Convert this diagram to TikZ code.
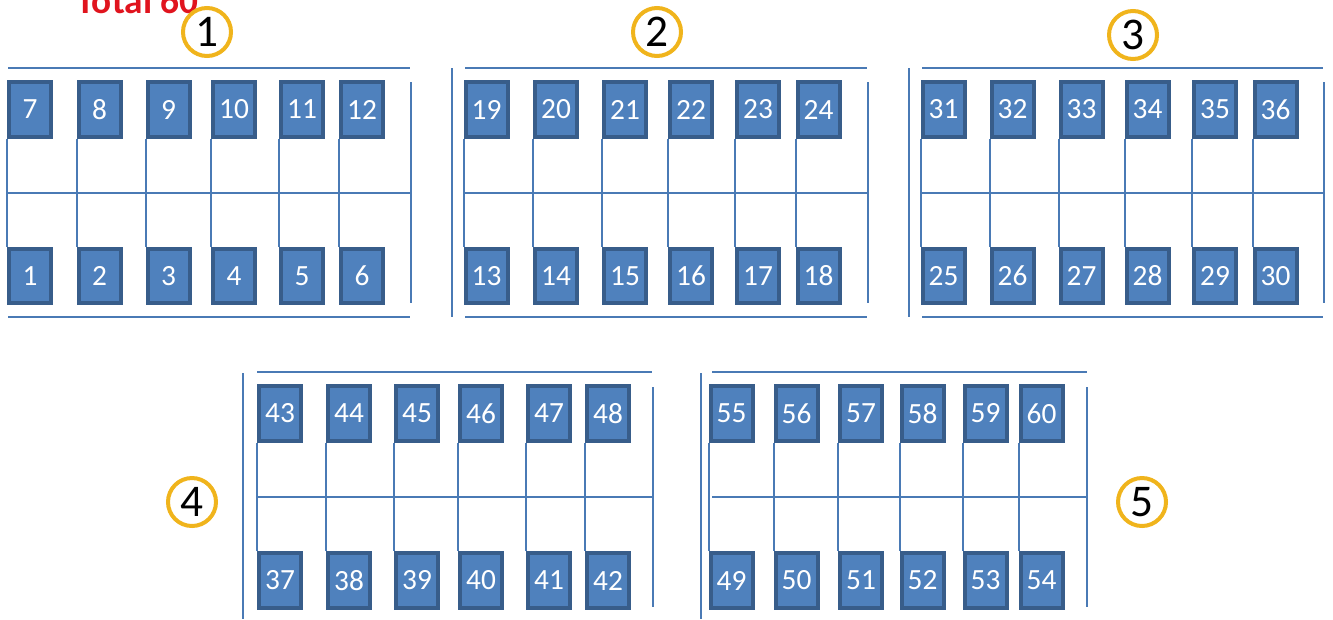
\documentclass[tikz,border=0pt]{standalone}
\usepackage{fontspec}
\setmainfont{Carlito}
\definecolor{seatfill}{HTML}{4F81BD}
\definecolor{seatedge}{HTML}{385D8A}
\definecolor{rail}{HTML}{4A7AB5}
\definecolor{ring}{HTML}{F0B41C}
\definecolor{totalred}{HTML}{E0141E}
\begin{document}
\begin{tikzpicture}[x=0.75pt,y=-0.75pt,
  seat/.style={draw=seatedge, fill=seatfill, line width=3pt, minimum width=31.5pt, minimum height=41pt, inner sep=0pt, text=white, font=\fontsize{22}{22}\selectfont},
  group/.style={draw=ring, line width=3pt, circle, minimum size=36pt, inner sep=0pt, font=\fontsize{34}{34}\selectfont},
  wire/.style={draw=rail, line width=1.5pt}]
\useasboundingbox (0,0) rectangle (1333,619);
\node[anchor=base west, text=totalred, font=\bfseries\fontsize{28}{28}\selectfont] (total) at (72,13) {Total 60};
\node[group] (g1) at (207,32) {1};
\node[group] (g2) at (657,32) {2};
\node[group] (g3) at (1133,35) {3};
\node[group] (g4) at (192,502) {4};
\node[group] (g5) at (1142,502) {5};
\node[seat] (s7) at (30,109.5) {7};
\node[seat] (s8) at (99.5,109.5) {8};
\node[seat] (s9) at (168.5,109.5) {9};
\node[seat] (s10) at (234,109.5) {10};
\node[seat] (s11) at (302,109.5) {11};
\node[seat] (s12) at (362,109.5) {12};
\node[seat] (s1) at (30,276) {1};
\node[seat] (s2) at (99.5,276) {2};
\node[seat] (s3) at (168.5,276) {3};
\node[seat] (s4) at (234,276) {4};
\node[seat] (s5) at (302,276) {5};
\node[seat] (s6) at (362,276) {6};
\node[seat] (s19) at (486.5,109.5) {19};
\node[seat] (s20) at (556,109.5) {20};
\node[seat] (s21) at (625,109.5) {21};
\node[seat] (s22) at (691,109.5) {22};
\node[seat] (s23) at (758,109.5) {23};
\node[seat] (s24) at (818.5,109.5) {24};
\node[seat] (s13) at (486.5,276) {13};
\node[seat] (s14) at (556,276) {14};
\node[seat] (s15) at (625,276) {15};
\node[seat] (s16) at (691,276) {16};
\node[seat] (s17) at (758,276) {17};
\node[seat] (s18) at (818.5,276) {18};
\node[seat] (s31) at (943.5,109.5) {31};
\node[seat] (s32) at (1012.5,109.5) {32};
\node[seat] (s33) at (1081.5,109.5) {33};
\node[seat] (s34) at (1147.5,109.5) {34};
\node[seat] (s35) at (1215,109.5) {35};
\node[seat] (s36) at (1275.5,109.5) {36};
\node[seat] (s25) at (943.5,276) {25};
\node[seat] (s26) at (1012.5,276) {26};
\node[seat] (s27) at (1081.5,276) {27};
\node[seat] (s28) at (1147.5,276) {28};
\node[seat] (s29) at (1215,276) {29};
\node[seat] (s30) at (1275.5,276) {30};
\node[seat] (s43) at (280,413.5) {43};
\node[seat] (s44) at (349,413.5) {44};
\node[seat] (s45) at (417,413.5) {45};
\node[seat] (s46) at (481,413.5) {46};
\node[seat] (s47) at (549,413.5) {47};
\node[seat] (s48) at (608,413.5) {48};
\node[seat] (s37) at (280,580.5) {37};
\node[seat] (s38) at (349,580.5) {38};
\node[seat] (s39) at (417,580.5) {39};
\node[seat] (s40) at (481,580.5) {40};
\node[seat] (s41) at (549,580.5) {41};
\node[seat] (s42) at (608,580.5) {42};
\node[seat] (s55) at (731.5,413.5) {55};
\node[seat] (s56) at (796.5,413.5) {56};
\node[seat] (s57) at (861,413.5) {57};
\node[seat] (s58) at (922.5,413.5) {58};
\node[seat] (s59) at (985.5,413.5) {59};
\node[seat] (s60) at (1041.5,413.5) {60};
\node[seat] (s49) at (731.5,580.5) {49};
\node[seat] (s50) at (796.5,580.5) {50};
\node[seat] (s51) at (861,580.5) {51};
\node[seat] (s52) at (922.5,580.5) {52};
\node[seat] (s53) at (985.5,580.5) {53};
\node[seat] (s54) at (1041.5,580.5) {54};
\draw[wire] (8,68) -- (410,68);
\draw[wire] (8,317) -- (410,317);
\draw[wire] (411,82) -- (411,303);
\draw[wire] (8,193) -- (410,193);
\draw[wire] (452,68) -- (452,317);
\draw[wire] (465,68) -- (867,68);
\draw[wire] (465,317) -- (867,317);
\draw[wire] (868,82) -- (868,303);
\draw[wire] (465,193) -- (867,193);
\draw[wire] (909,68) -- (909,317);
\draw[wire] (922,68) -- (1323,68);
\draw[wire] (922,317) -- (1323,317);
\draw[wire] (1324,82) -- (1324,303);
\draw[wire] (922,193) -- (1323,193);
\draw[wire] (243,373) -- (243,619);
\draw[wire] (257,372) -- (652,372);
\draw[wire] (653,387) -- (653,607);
\draw[wire] (257,497) -- (652,497);
\draw[wire] (701,373) -- (701,619);
\draw[wire] (712,372) -- (1087,372);
\draw[wire] (1087,387) -- (1087,607);
\draw[wire] (712,497) -- (1087,497);
\draw[wire] (s7.south west) -- (s1.north west);
\draw[wire] (s8.south west) -- (s2.north west);
\draw[wire] (s9.south west) -- (s3.north west);
\draw[wire] (s10.south west) -- (s4.north west);
\draw[wire] (s11.south west) -- (s5.north west);
\draw[wire] (s12.south west) -- (s6.north west);
\draw[wire] (s19.south west) -- (s13.north west);
\draw[wire] (s20.south west) -- (s14.north west);
\draw[wire] (s21.south west) -- (s15.north west);
\draw[wire] (s22.south west) -- (s16.north west);
\draw[wire] (s23.south west) -- (s17.north west);
\draw[wire] (s24.south west) -- (s18.north west);
\draw[wire] (s31.south west) -- (s25.north west);
\draw[wire] (s32.south west) -- (s26.north west);
\draw[wire] (s33.south west) -- (s27.north west);
\draw[wire] (s34.south west) -- (s28.north west);
\draw[wire] (s35.south west) -- (s29.north west);
\draw[wire] (s36.south west) -- (s30.north west);
\draw[wire] (s43.south west) -- (s37.north west);
\draw[wire] (s44.south west) -- (s38.north west);
\draw[wire] (s45.south west) -- (s39.north west);
\draw[wire] (s46.south west) -- (s40.north west);
\draw[wire] (s47.south west) -- (s41.north west);
\draw[wire] (s48.south west) -- (s42.north west);
\draw[wire] (s55.south west) -- (s49.north west);
\draw[wire] (s56.south west) -- (s50.north west);
\draw[wire] (s57.south west) -- (s51.north west);
\draw[wire] (s58.south west) -- (s52.north west);
\draw[wire] (s59.south west) -- (s53.north west);
\draw[wire] (s60.south west) -- (s54.north west);
\end{tikzpicture}
\end{document}
